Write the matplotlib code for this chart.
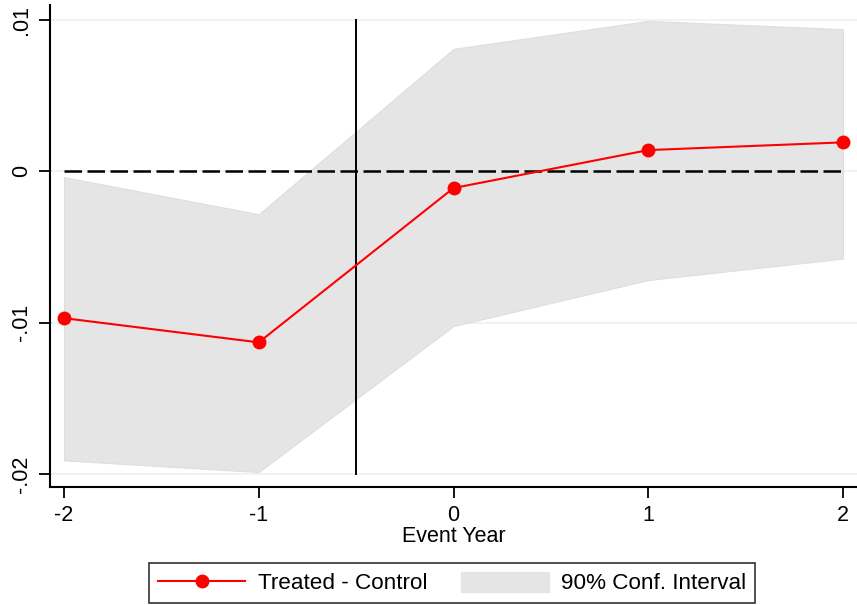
import matplotlib
matplotlib.use("Agg")
import matplotlib.pyplot as plt
from matplotlib.lines import Line2D
from matplotlib.patches import Patch

plt.rcParams['font.family'] = ['Liberation Sans', 'DejaVu Sans']

event_year = [-2, -1, 0, 1, 2]
estimate = [-0.0097, -0.0113, -0.0011, 0.00141, 0.00192]
ci_upper = [-0.00038, -0.00283, 0.0081, 0.00995, 0.0094]
ci_lower = [-0.0191, -0.01987, -0.01022, -0.00718, -0.00576]
yticks = [-0.02, -0.01, 0.0, 0.01]
ytick_labels = ['-.02', '-.01', '0', '.01']
xticks = [-2, -1, 0, 1, 2]
event_line = -0.5

FS = 15.5
LFS = 16.2

fig = plt.figure(figsize=(8.57, 6.05), dpi=100)
ax = fig.add_axes([50/857, 1-487/605, 807/857, 482/605])

ax.set_xlim(-2.072, 2.072)
ax.set_ylim(-0.02086, 0.011)

for y in yticks:
    ax.axhline(y, color='#eaf2f3', lw=1.2, zorder=0)

ax.fill_between(event_year, ci_lower, ci_upper, facecolor='#e5e5e5',
                edgecolor='#dedede', lw=0.8, zorder=1)
ax.plot([event_year[0], event_year[-1]], [0, 0], color='black', lw=1.8,
        dashes=(7, 2.2), zorder=2)
ax.plot([event_line, event_line], [yticks[0], yticks[-1]], color='black',
        lw=1.4, zorder=2)
ax.plot(event_year, estimate, color='red', lw=1.5, marker='o',
        markersize=9, zorder=3)

for s in ['top', 'right']:
    ax.spines[s].set_visible(False)
for s in ['left', 'bottom']:
    ax.spines[s].set_linewidth(1.5)

ax.set_xticks(xticks)
ax.set_xticklabels([str(x) for x in xticks], fontsize=FS)
ax.set_yticks(yticks)
ax.set_yticklabels(ytick_labels, fontsize=FS, rotation=90, va='center')
ax.tick_params(axis='both', direction='out', length=8, width=1.3)
ax.tick_params(axis='x', pad=5)
ax.tick_params(axis='y', pad=5)
ax.set_xlabel('Event Year', fontsize=FS, labelpad=0)

handles = [Line2D([0], [0], color='red', lw=1.5, marker='o', markersize=9),
           Patch(facecolor='#e5e5e5', edgecolor='#e5e5e5')]
labels = ['Treated - Control', '90% Conf. Interval']
leg = fig.legend(handles, labels, loc='center', bbox_to_anchor=(452/857, 1-583/605),
                 ncol=2, fontsize=LFS, frameon=True, fancybox=False,
                 edgecolor='black', handlelength=3.9, handleheight=1.0,
                 handletextpad=0.55, columnspacing=1.5, borderpad=0.4,
                 borderaxespad=0)
leg.get_frame().set_linewidth(1.2)

fig.savefig('out.png', dpi=100)
